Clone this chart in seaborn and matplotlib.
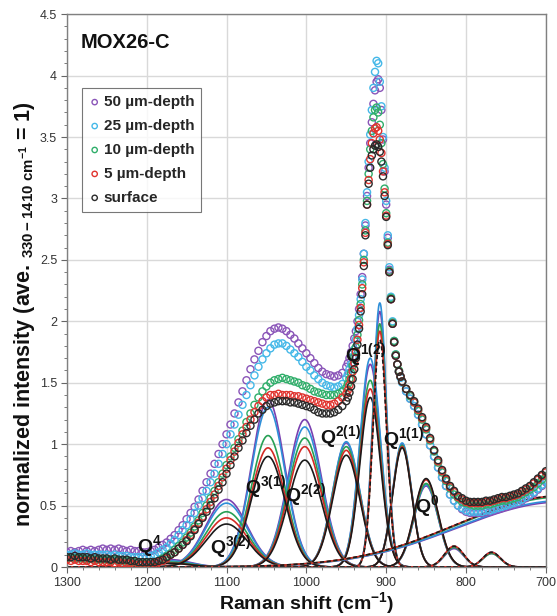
import numpy as np
import pandas as pd
import matplotlib
matplotlib.use("Agg")
import matplotlib.pyplot as plt
import seaborn as sns
from matplotlib.ticker import MultipleLocator, FuncFormatter

# ---------------- data ----------------
# Raman shift sampling (cm-1): 1300..955 step 5, 950..880 step 2, 875..700 step 5
shift = np.concatenate([np.arange(1300, 954, -5), np.arange(950, 879, -2), np.arange(875, 699, -5)])

surface = [
    0.08,0.08,0.09,0.08,0.08,0.08,0.07,0.08,0.07,0.07,
    0.07,0.06,0.07,0.06,0.06,0.06,0.05,0.05,0.04,0.04,
    0.04,0.04,0.04,0.05,0.06,0.08,0.10,0.12,0.15,0.18,
    0.21,0.25,0.30,0.35,0.40,0.45,0.50,0.56,0.63,0.69,
    0.76,0.83,0.90,0.97,1.03,1.09,1.15,1.20,1.25,1.28,
    1.31,1.33,1.34,1.35,1.35,1.35,1.34,1.34,1.33,1.32,
    1.31,1.30,1.28,1.26,1.25,1.25,1.25,1.26,1.28,1.31,
    1.35,1.38,1.42,1.47,1.53,1.61,1.70,1.81,1.94,2.08,
    2.22,2.45,2.70,2.95,3.12,3.25,3.35,3.40,3.43,3.44,
    3.42,3.38,3.30,3.18,3.02,2.85,2.62,2.40,2.18,1.98,
    1.83,1.72,1.65,1.59,1.55,1.51,
    1.45,1.40,1.35,1.29,1.22,1.14,1.05,0.95,0.87,0.79,
    0.72,0.66,0.62,0.58,0.56,0.54,0.53,0.53,0.53,0.53,
    0.54,0.54,0.55,0.56,0.57,0.57,0.58,0.59,0.60,0.62,
    0.64,0.66,0.69,0.72,0.75,0.78]

depth5 = [
    0.06,0.05,0.06,0.05,0.05,0.05,0.04,0.05,0.04,0.04,
    0.04,0.04,0.03,0.04,0.03,0.03,0.03,0.02,0.02,0.02,
    0.02,0.02,0.03,0.04,0.05,0.07,0.10,0.12,0.15,0.18,
    0.22,0.26,0.31,0.36,0.41,0.47,0.53,0.59,0.66,0.73,
    0.80,0.87,0.94,1.01,1.08,1.14,1.20,1.26,1.31,1.35,
    1.38,1.40,1.40,1.41,1.40,1.40,1.40,1.39,1.39,1.38,
    1.37,1.36,1.35,1.34,1.33,1.32,1.32,1.33,1.35,1.38,
    1.41,1.44,1.48,1.53,1.59,1.66,1.75,1.85,1.97,2.11,
    2.27,2.48,2.72,2.95,3.15,3.32,3.45,3.53,3.57,3.58,
    3.55,3.48,3.37,3.22,3.05,2.86,2.63,2.40,2.18,1.98,
    1.83,1.72,1.65,1.59,1.55,1.51,
    1.45,1.40,1.34,1.28,1.21,1.13,1.04,0.95,0.86,0.78,
    0.71,0.65,0.61,0.57,0.55,0.53,0.52,0.52,0.52,0.52,
    0.53,0.53,0.54,0.55,0.56,0.56,0.57,0.58,0.59,0.61,
    0.63,0.65,0.68,0.71,0.74,0.77]

depth10 = [
    0.07,0.08,0.07,0.07,0.07,0.06,0.07,0.06,0.06,0.06,
    0.06,0.05,0.06,0.05,0.05,0.05,0.04,0.04,0.04,0.03,
    0.03,0.04,0.04,0.05,0.07,0.09,0.11,0.14,0.17,0.20,
    0.24,0.28,0.33,0.38,0.44,0.50,0.56,0.62,0.69,0.76,
    0.83,0.90,0.97,1.04,1.11,1.18,1.25,1.32,1.38,1.43,
    1.47,1.50,1.52,1.53,1.54,1.53,1.52,1.51,1.50,1.48,
    1.47,1.45,1.43,1.42,1.41,1.40,1.40,1.40,1.41,1.43,
    1.46,1.49,1.53,1.58,1.64,1.71,1.79,1.89,2.01,2.14,
    2.30,2.50,2.74,2.98,3.20,3.40,3.55,3.66,3.72,3.74,
    3.70,3.60,3.45,3.28,3.08,2.88,2.64,2.41,2.19,1.99,
    1.84,1.73,1.65,1.60,1.55,1.51,
    1.45,1.39,1.34,1.27,1.20,1.12,1.03,0.94,0.85,0.77,
    0.70,0.64,0.59,0.56,0.53,0.52,0.51,0.50,0.50,0.50,
    0.51,0.51,0.52,0.53,0.54,0.54,0.55,0.56,0.57,0.59,
    0.61,0.63,0.65,0.68,0.71,0.74]

depth25 = [
    0.10,0.10,0.11,0.10,0.10,0.11,0.10,0.10,0.10,0.10,
    0.10,0.09,0.10,0.09,0.09,0.09,0.08,0.08,0.08,0.08,
    0.08,0.09,0.10,0.12,0.14,0.16,0.19,0.22,0.26,0.30,
    0.34,0.39,0.44,0.50,0.56,0.62,0.69,0.76,0.84,0.92,
    1.00,1.08,1.16,1.24,1.32,1.40,1.48,1.56,1.63,1.69,
    1.74,1.78,1.81,1.82,1.82,1.80,1.77,1.74,1.71,1.67,
    1.63,1.60,1.56,1.53,1.50,1.48,1.47,1.46,1.47,1.49,
    1.54,1.57,1.61,1.65,1.71,1.77,1.85,1.94,2.05,2.18,
    2.34,2.55,2.80,3.05,3.30,3.52,3.72,3.90,4.03,4.12,
    4.10,3.95,3.75,3.50,3.25,2.98,2.70,2.44,2.20,2.00,
    1.84,1.73,1.65,1.59,1.54,1.50,
    1.43,1.37,1.31,1.24,1.16,1.08,0.99,0.90,0.81,0.73,
    0.66,0.59,0.54,0.50,0.48,0.46,0.45,0.45,0.45,0.45,
    0.46,0.46,0.47,0.48,0.49,0.50,0.51,0.52,0.53,0.55,
    0.57,0.59,0.61,0.64,0.67,0.70]

depth50 = [
    0.12,0.13,0.12,0.13,0.14,0.13,0.14,0.13,0.14,0.15,
    0.14,0.15,0.14,0.15,0.14,0.13,0.14,0.13,0.13,0.12,
    0.12,0.13,0.14,0.16,0.18,0.20,0.23,0.26,0.30,0.34,
    0.39,0.44,0.49,0.55,0.62,0.69,0.76,0.84,0.92,1.00,
    1.08,1.16,1.25,1.34,1.43,1.52,1.61,1.69,1.76,1.83,
    1.88,1.92,1.94,1.95,1.94,1.92,1.89,1.86,1.82,1.78,
    1.74,1.70,1.66,1.62,1.59,1.57,1.56,1.55,1.56,1.58,
    1.63,1.66,1.70,1.75,1.80,1.86,1.92,2.00,2.10,2.22,
    2.36,2.55,2.78,3.02,3.25,3.45,3.62,3.77,3.88,3.95,
    3.97,3.90,3.72,3.48,3.22,2.95,2.68,2.42,2.18,1.98,
    1.83,1.72,1.65,1.59,1.55,1.51,
    1.43,1.37,1.31,1.24,1.16,1.08,0.99,0.90,0.81,0.73,
    0.66,0.59,0.54,0.50,0.47,0.45,0.44,0.44,0.44,0.44,
    0.45,0.45,0.46,0.47,0.48,0.49,0.50,0.51,0.52,0.54,
    0.56,0.58,0.60,0.63,0.66,0.69]

series_labels = ["50 µm-depth", "25 µm-depth", "10 µm-depth", "5 µm-depth", "surface"]
series_values = [depth50, depth25, depth10, depth5, surface]
marker_colors = ["#8a55b8", "#45b8e8", "#2fae6a", "#e0332e", "#2a2a2a"]
line_colors = ["#7a3fb0", "#2f8fd8", "#27a055", "#d42a25", "#1a1a1a"]

# fitted Gaussian bands (centre, sigma) and heights per series
band_names = ["Q4", "Q3(2)", "Q3(1)", "Q2(2)", "Q2(1)", "Q1(2)", "Q1(1)", "Q0"]
band_center = [1170, 1100, 1048, 1002, 950, 920, 880, 850]
band_sigma = [25, 26, 21, 21, 17, 13, 12, 15]
band_height = {
    "50 µm-depth": [0.06, 0.55, 1.36, 1.20, 1.01, 1.65, 1.00, 0.66],
    "25 µm-depth": [0.05, 0.52, 1.30, 1.14, 1.02, 1.70, 1.01, 0.67],
    "10 µm-depth": [0.04, 0.45, 1.07, 1.05, 0.98, 1.52, 0.99, 0.68],
    "5 µm-depth":  [0.03, 0.40, 0.97, 0.98, 0.95, 1.45, 0.98, 0.71],
    "surface":     [0.03, 0.35, 0.90, 0.87, 0.91, 1.38, 0.97, 0.72],
}
# narrow / extra bands (drawn dashed)
extra_center = [908, 815, 768, 680]
extra_sigma = [8.5, 12, 11, 130]
extra_height = {
    "50 µm-depth": [2.08, 0.15, 0.11, 0.53],
    "25 µm-depth": [2.15, 0.16, 0.12, 0.54],
    "10 µm-depth": [1.98, 0.16, 0.11, 0.57],
    "5 µm-depth":  [1.92, 0.17, 0.12, 0.58],
    "surface":     [1.85, 0.17, 0.12, 0.58],
}

q_labels = [r"Q$^{4}$", r"Q$^{3(2)}$", r"Q$^{3(1)}$", r"Q$^{2(2)}$", r"Q$^{2(1)}$",
            r"Q$^{1(2)}$", r"Q$^{1(1)}$", r"Q$^{0}$"]
q_label_x = [1212, 1121, 1077, 1027, 983, 952, 904, 864]
q_label_y = [0.12, 0.11, 0.60, 0.54, 1.01, 1.68, 0.99, 0.45]

# ---------------- style ----------------
sns.set_theme(style="white")
plt.rcParams['font.family'] = ['Liberation Sans', 'DejaVu Sans']
plt.rcParams['mathtext.fontset'] = 'custom'
plt.rcParams['mathtext.rm'] = 'Liberation Sans:bold'
plt.rcParams['mathtext.it'] = 'Liberation Sans:bold:italic'
plt.rcParams['mathtext.bf'] = 'Liberation Sans:bold'
plt.rcParams['mathtext.default'] = 'rm'

fig = plt.figure(figsize=(5.57, 6.16), dpi=100)
ax = fig.add_axes([0.120, 0.0795, 0.860, 0.8975])

xs = np.linspace(1300, 700, 1201)

# components
for lab, lc in zip(series_labels, line_colors):
    for c, s, h in zip(band_center, band_sigma, band_height[lab]):
        yy = h * np.exp(-(xs - c) ** 2 / (2 * s ** 2))
        sns.lineplot(x=xs, y=yy, color=lc, lw=1.2, ax=ax, sort=False,
                     estimator=None, legend=False, zorder=2)
    for c, s, h in zip(extra_center, extra_sigma, extra_height[lab]):
        yy = h * np.exp(-(xs - c) ** 2 / (2 * s ** 2))
        ls = (0, (2.5, 1.5)) if lab == "surface" else "-"
        sns.lineplot(x=xs, y=yy, color=lc, lw=1.2, ax=ax, sort=False,
                     estimator=None, legend=False, zorder=2.5, linestyle=ls)

# measured spectra
for lab, vals, mc in zip(series_labels, series_values, marker_colors):
    sns.scatterplot(x=shift, y=np.array(vals), ax=ax, marker="o", s=26,
                    facecolors="none", edgecolors=mc, linewidths=1.0,
                    label=lab, zorder=3)

# Q labels
for t, qx, qy in zip(q_labels, q_label_x, q_label_y):
    ax.text(qx, qy, t, fontsize=14, fontweight="bold", ha="left", va="baseline",
            color="#111111", zorder=5)

ax.text(0.029, 0.949, "MOX26-C", transform=ax.transAxes, fontsize=14.5,
        fontweight="bold", ha="left", va="center", color="#111111")

ax.set_xlim(1300, 700)
ax.set_ylim(0, 4.5)
ax.xaxis.set_major_locator(MultipleLocator(100))
ax.xaxis.set_minor_locator(MultipleLocator(20))
ax.yaxis.set_major_locator(MultipleLocator(0.5))
ax.yaxis.set_minor_locator(MultipleLocator(0.1))
ax.yaxis.set_major_formatter(FuncFormatter(lambda v, p: "%g" % v))
ax.xaxis.set_major_formatter(FuncFormatter(lambda v, p: "%d" % v))
ax.tick_params(which="both", direction="out", color="#666666", bottom=True, left=True,
               top=False, right=False)
ax.tick_params(which="major", length=4, width=0.8, labelsize=9, labelcolor="#333333", pad=3)
ax.tick_params(which="minor", length=2.5, width=0.6)
ax.grid(True, which="major", color="#d9d9d9", lw=1.0)
ax.set_axisbelow(True)
for sp in ax.spines.values():
    sp.set_color("#808080")
    sp.set_linewidth(1.0)

ax.set_xlabel(r"Raman shift (cm$^{-1}$)", fontsize=14, fontweight="bold", color="#111111", labelpad=1)
ax.set_ylabel(r"normalized intensity (ave. $_{330-1410\ cm^{-1}}$ = 1)", fontsize=15.5,
              fontweight="bold", color="#111111")
ax.yaxis.set_label_coords(-0.062, 0.457)

leg = ax.legend(loc="upper left", bbox_to_anchor=(0.031, 0.866), frameon=True, fancybox=False,
                edgecolor="#555555", prop={"weight": "bold", "size": 11},
                handletextpad=0.2, handlelength=0.8, labelspacing=0.65, borderpad=0.45,
                markerscale=0.75, borderaxespad=0)
leg.get_frame().set_linewidth(0.8)

fig.savefig("out.png", dpi=100)
